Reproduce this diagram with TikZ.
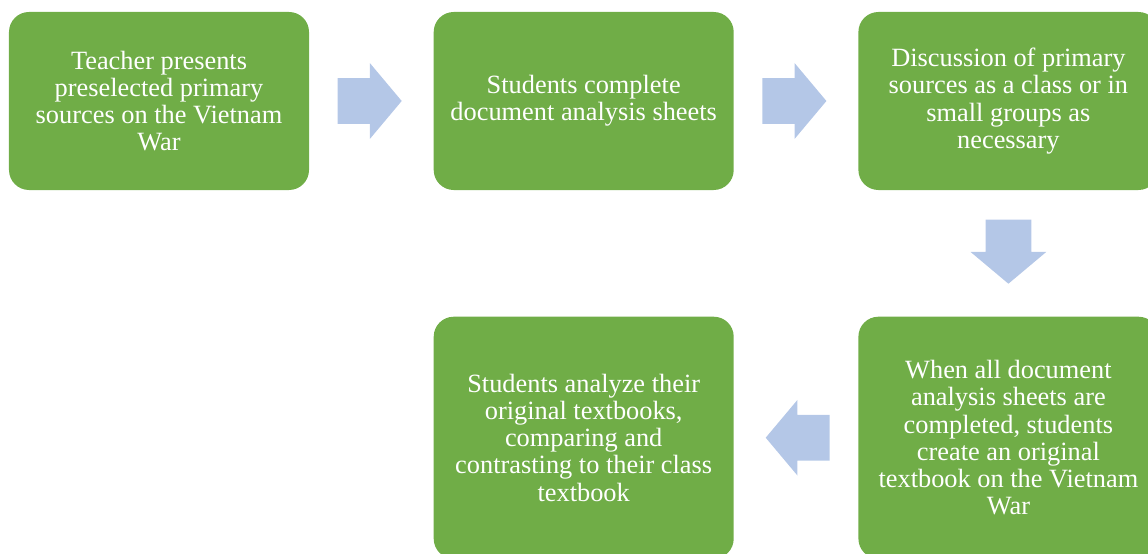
\documentclass[tikz,border=0pt]{standalone}
\usepackage{fontspec}
\setmainfont{Liberation Serif}
\usetikzlibrary{positioning,calc,shapes.arrows}
\begin{document}
\begin{tikzpicture}
  \definecolor{stepgreen}{HTML}{70AD47}
  \definecolor{flowblue}{HTML}{B4C7E7}
  \tikzset{
    stepbox/.style={fill=stepgreen,rounded corners=0.4cm,text=white,align=center,
      minimum width=6cm,inner sep=0pt,font=\fontsize{15}{15.5}\selectfont},
    topbox/.style={stepbox,minimum height=3.56cm},
    lowbox/.style={stepbox,minimum height=4.84cm},
    flowarrow/.style={single arrow,fill=flowblue,inner xsep=0pt,inner ysep=0.45cm,anchor=tail,
      minimum height=1.28cm,single arrow head extend=0.3cm,single arrow tip angle=100}
  }
  \clip (0,0) rectangle (22.96,-11.06);
  \node [topbox] (teacher) at (3.18,-2.02) {Teacher presents\\preselected primary\\sources on the Vietnam\\War};
  \node [topbox,right=2.48cm of teacher] (sheets) {Students complete\\document analysis sheets};
  \node [topbox,right=2.48cm of sheets] (discuss) {Discussion of primary\\sources as a class or in\\small groups as\\necessary};
  \node [lowbox,below=2.52cm of discuss] (create) {When all document\\analysis sheets are\\completed, students\\create an original\\textbook on the Vietnam\\War};
  \node [lowbox,left=2.48cm of create] (compare) {Students analyze their\\original textbooks,\\comparing and\\contrasting to their class\\textbook};
  \node [flowarrow] (a1) at ($(teacher.east)+(0.56,0)$) {};
  \node [flowarrow] (a2) at ($(sheets.east)+(0.56,0)$) {};
  \node [flowarrow,rotate=-90] (a3) at ($(discuss.south)+(0,-0.58)$) {};
  \node [flowarrow,rotate=180] (a4) at ($(create.west)+(-0.56,0)$) {};
\end{tikzpicture}
\end{document}
